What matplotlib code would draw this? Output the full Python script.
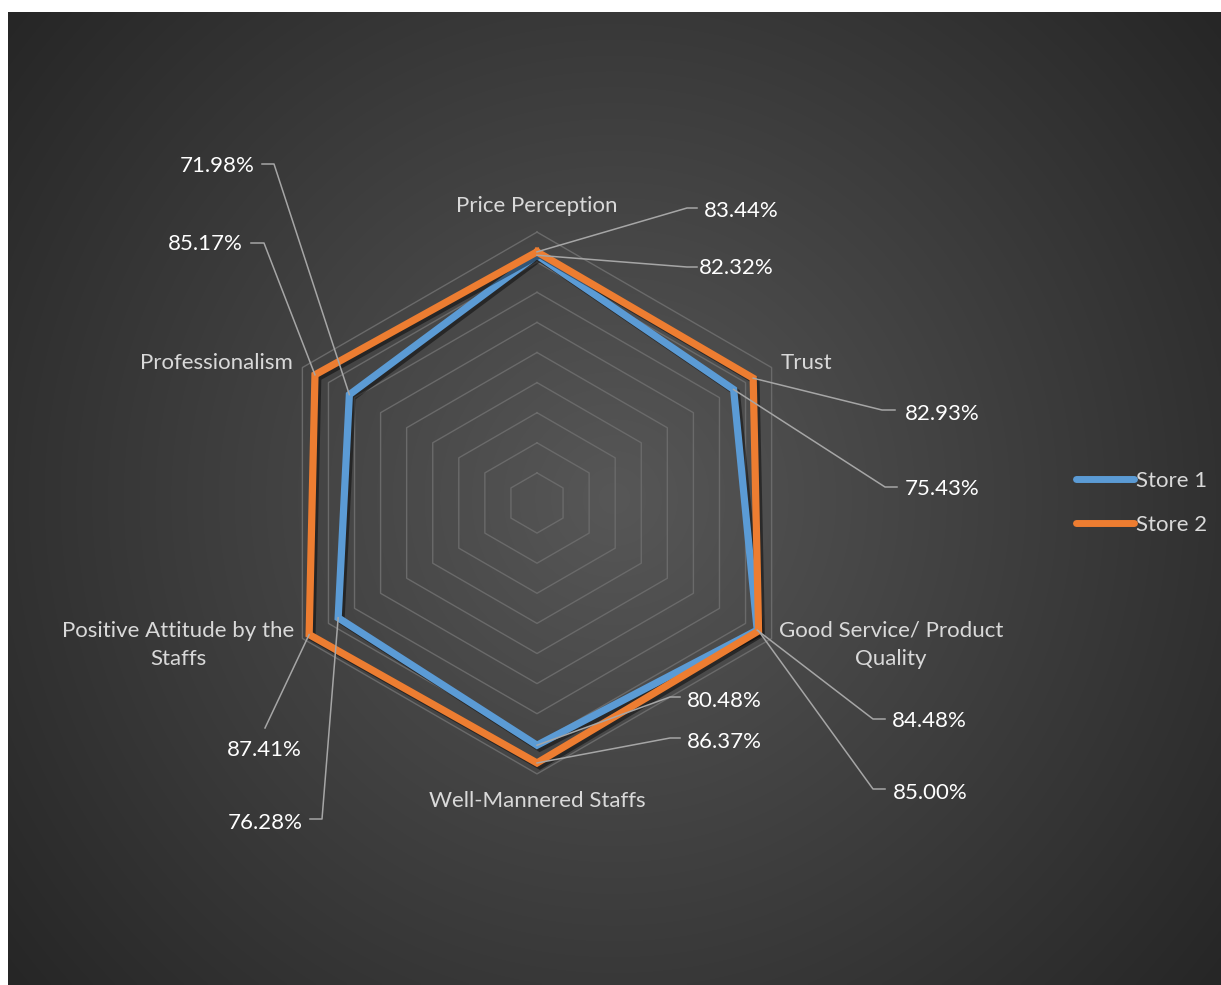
import numpy as np
import matplotlib.pyplot as plt
from matplotlib import patheffects as pe
from matplotlib.lines import Line2D

plt.rcParams['font.family'] = ['Lato', 'DejaVu Sans']

categories = ["Price Perception", "Trust", "Good Service/ Product\nQuality",
              "Well-Mannered Staffs", "Positive Attitude by the\nStaffs", "Professionalism"]
store1 = [0.8232, 0.7543, 0.8448, 0.8048, 0.7628, 0.7198]
store2 = [0.8344, 0.8293, 0.8500, 0.8637, 0.8741, 0.8517]
series_names = ["Store 1", "Store 2"]
ring_levels = [0.1, 0.2, 0.3, 0.4, 0.5, 0.6, 0.7, 0.8, 0.9]

colors = ["#5B9BD5", "#ED7D31"]
FS = 16

# canvas in pixels, radar centre and pixels per unit of value
W, H = 1221, 985
CX, CY = 537, 503
SCALE = 301


def px(x, y):
    """pixel position -> data coords of the full-figure axes"""
    return (x - CX) / SCALE, (CY - y) / SCALE


fig = plt.figure(figsize=(W / 100, H / 100), dpi=100)
fig.patch.set_facecolor("white")
ax = fig.add_axes([0, 0, 1, 1])
ax.axis("off")

# radial gradient background of the chart area
x0, y0 = px(8, 12)
x1, y1 = px(W, H)
gx, gy = np.meshgrid(np.linspace(8, W, 400), np.linspace(12, H, 320))
mx, my = (8 + W) / 2, (12 + H) / 2
d = np.hypot(gx - mx, gy - my)
d = d / d.max()
shade = (87 - 49 * d) / 255
ax.imshow(np.dstack([shade, shade, shade]), extent=(x0, x1, y1, y0),
          origin="upper", aspect="auto", zorder=0, interpolation="bilinear")
ax.set_xlim(px(0, 0)[0], px(W, 0)[0])
ax.set_ylim(px(0, H)[1], px(0, 0)[1])

n = len(categories)
theta = np.pi / 2 - np.arange(n) * 2 * np.pi / n
theta_c = np.append(theta, theta[0])

# hexagonal grid
for lvl in ring_levels:
    ax.plot(lvl * np.cos(theta_c), lvl * np.sin(theta_c), color="#6a6a6a", lw=1.0, zorder=1)

# series
shadow = [pe.SimpleLineShadow(offset=(2, -2), shadow_color="black", alpha=0.45), pe.Normal()]
for vals, col in zip([store1, store2], colors):
    v = np.append(vals, vals[0])
    ax.plot(v * np.cos(theta_c), v * np.sin(theta_c), color=col, lw=5.2,
            solid_joinstyle="miter", zorder=3, path_effects=shadow)

# category labels
cat_pos = [(537, 206), (806, 363), (891, 645), (537, 801), (178, 645), (216, 363)]
for name, (lx, ly) in zip(categories, cat_pos):
    ax.text(*px(lx, ly), name, color="#d9d9d9", fontsize=FS, ha="center", va="center",
            linespacing=1.55, zorder=5)

# data labels with leader lines: (elbow, hook end, text centre) in pixels
leaders1 = [((687, 267), (697, 267), (736, 268)),
            ((885, 487), (897, 487), (942, 489)),
            ((873, 719), (885, 719), (929, 721)),
            ((670, 697), (680, 697), (724, 701)),
            ((322, 819), (310, 819), (265, 823)),
            ((274, 164), (262, 164), (217, 166))]
leaders2 = [((687, 208), (697, 208), (741, 211)),
            ((882, 410), (895, 410), (942, 414)),
            ((873, 789), (885, 789), (930, 793)),
            ((670, 738), (680, 738), (724, 742)),
            ((265, 728), None, (264, 750)),
            ((264, 243), (251, 243), (205, 244))]

for vals, leaders in zip([store1, store2], [leaders1, leaders2]):
    for v, t, (elbow, hook, tpos) in zip(vals, theta, leaders):
        xs = [v * np.cos(t), px(*elbow)[0]]
        ys = [v * np.sin(t), px(*elbow)[1]]
        if hook is not None:
            xs.append(px(*hook)[0])
            ys.append(px(*hook)[1])
        ax.plot(xs, ys, color="#a6a6a6", lw=1.1, zorder=4)
        ax.text(*px(*tpos), f"{v:.2%}", color="white", fontsize=FS,
                ha="center", va="center", zorder=5)

# legend
handles = [Line2D([], [], color=c, lw=5, solid_capstyle="round") for c in colors]
leg = ax.legend(handles, series_names, loc="center left",
                bbox_to_anchor=(1056 / W, 1 - 503 / H), frameon=False,
                fontsize=FS, handlelength=2.6, handletextpad=0.12, labelspacing=1.08)
for txt in leg.get_texts():
    txt.set_color("#d9d9d9")

fig.savefig("out.png", dpi=100, facecolor="white")
